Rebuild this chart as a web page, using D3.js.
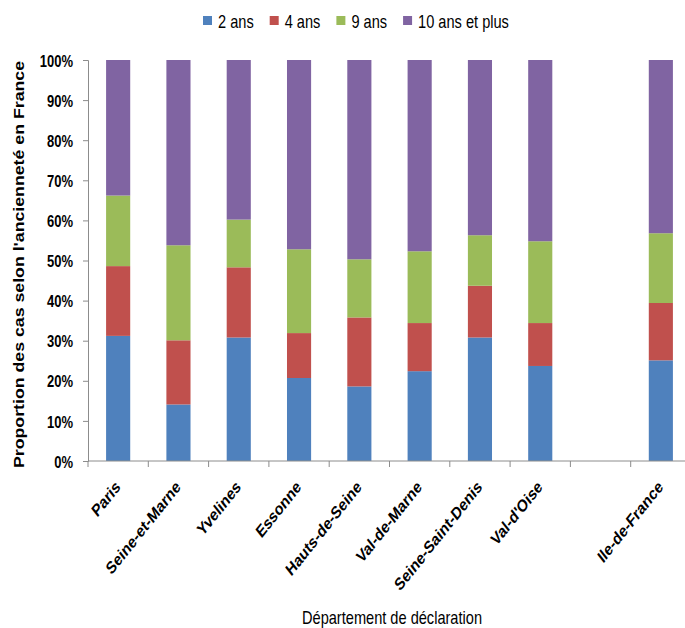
<!DOCTYPE html>
<html><head><meta charset="utf-8">
<script src="https://cdn.jsdelivr.net/npm/d3@7"></script>
<style>
html,body{margin:0;padding:0;background:#fff;}
svg{display:block;font-family:"Liberation Sans",Arial,sans-serif;}
</style></head>
<body><svg id="c" width="685" height="628"></svg>
<script>
const categories = ["Paris","Seine-et-Marne","Yvelines","Essonne","Hauts-de-Seine","Val-de-Marne","Seine-Saint-Denis","Val-d'Oise","","Ile-de-France"];
const seriesNames = ["2 ans","4 ans","9 ans","10 ans et plus"];
const colors = ["#4F81BD","#C0504D","#9BBB59","#8064A2"];
const v2ans  = [31.2,14.1,30.8,20.7,18.6,22.4,30.8,23.7,null,25.1];
const v4ans  = [17.4,16.0,17.5,11.2,17.2,12.0,12.9,10.7,null,14.3];
const v9ans  = [17.6,23.7,11.9,20.9,14.5,17.9,12.6,20.4,null,17.4];
const v10ans = [33.8,46.2,39.8,47.2,49.7,47.7,43.7,45.2,null,43.2];
const yTicks = [0,10,20,30,40,50,60,70,80,90,100];
const yTitle = "Proportion des cas selon l'ancienneté en France";
const xTitle = "Département de déclaration";

const svg = d3.select("#c");
const m = {left:88, right:-6, top:60, bottom:167};
const W = 685, H = 628;
const x = d3.scaleBand().domain(categories).range([m.left, W - m.right]).paddingInner(0.6).paddingOuter(0.3);
const y = d3.scaleLinear().domain([0,100]).range([H - m.bottom, m.top]);

const rows = categories.map((c,i)=>({cat:c, "2 ans":v2ans[i]||0, "4 ans":v4ans[i]||0, "9 ans":v9ans[i]||0, "10 ans et plus":v10ans[i]||0, empty: v2ans[i]==null}));
const stack = d3.stack().keys(seriesNames)(rows);

const axisColor = "#8c8c8c";

// bars
stack.forEach((layer,li)=>{
  svg.append("g").attr("fill", colors[li])
    .selectAll("rect").data(layer.filter(d=>!d.data.empty)).join("rect")
    .attr("x", d=>x(d.data.cat))
    .attr("width", x.bandwidth())
    .attr("y", d=>y(d[1]))
    .attr("height", d=>y(d[0]) - y(d[1]));
});

// y axis
const yAxis = svg.append("g").attr("transform", `translate(${m.left},0)`)
  .call(d3.axisLeft(y).tickValues(yTicks).tickFormat(d=>d+"%").tickSize(5).tickPadding(10));
yAxis.select(".domain").attr("stroke", axisColor);
yAxis.selectAll(".tick line").attr("stroke", axisColor);
yAxis.selectAll(".tick text")
  .attr("font-family", '"Liberation Sans",Arial,sans-serif')
  .attr("font-size", 13).attr("font-weight","bold").attr("fill","#000")
  .attr("dy", null).attr("dominant-baseline","central")
  .attr("transform", `scale(1,1.3)`).attr("y", 0).attr("x", -15);

// x axis
const y0 = y(0);
const xa = svg.append("g");
xa.append("line").attr("x1", m.left).attr("x2", W - m.right).attr("y1", y0).attr("y2", y0).attr("stroke", axisColor);
const step = x.step();
const bounds = d3.range(categories.length + 1).map(i => x.range()[0] + i*step);
xa.selectAll("line.t").data(bounds).join("line").attr("class","t")
  .attr("x1", d=>d).attr("x2", d=>d).attr("y1", y0).attr("y2", y0 + 6).attr("stroke", axisColor);
xa.selectAll("text").data(categories.filter(c=>c!=="")).join("text")
  .attr("transform", d=>`translate(${x(d) + x.bandwidth()/2 + 3},${y0 + 27}) scale(1,1.25) rotate(-45)`)
  .attr("text-anchor","end")
  .attr("font-size", 13.8).attr("font-weight","bold").attr("fill","#000")
  .text(d=>d);

// titles
svg.append("text").attr("transform", `translate(24,${(m.top + y0)/2 + 4}) scale(1,1.16) rotate(-90)`)
  .attr("text-anchor","middle").attr("font-size", 15.3).attr("font-weight","bold").attr("fill","#000")
  .text(yTitle);
svg.append("text").attr("transform", `translate(392,624) scale(1,1.2)`)
  .attr("text-anchor","middle").attr("font-size", 14.6).attr("fill","#000")
  .text(xTitle);

// legend
const lg = svg.append("g").attr("transform", `translate(203,21)`);
let lx = 0;
seriesNames.forEach((s,i)=>{
  lg.append("rect").attr("x", lx).attr("y", -5).attr("width", 9).attr("height", 9).attr("fill", colors[i]);
  const t = lg.append("text").attr("transform", `translate(${lx + 15},0) scale(1,1.2)`)
    .attr("font-size", 14.6).attr("dominant-baseline","central").attr("fill","#000").text(s);
  lx += 15 + t.node().getComputedTextLength() + 16;
});
</script></body></html>
